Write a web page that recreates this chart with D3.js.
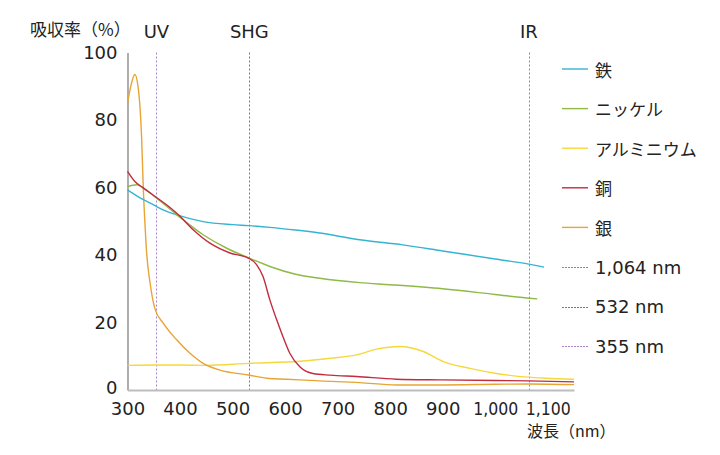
<!DOCTYPE html>
<html><head><meta charset="utf-8">
<script src="https://cdn.jsdelivr.net/npm/d3@7/dist/d3.min.js"></script>
<style>
html,body{margin:0;padding:0;background:#fff;}
svg{display:block;font-family:"DejaVu Sans","Noto Sans CJK JP",sans-serif;}
</style></head>
<body><svg id="c" width="720" height="455"></svg>
<script>
// ---- data ----
const seriesNames = ["鉄", "ニッケル", "アルミニウム", "銅", "銀"];
const seriesColors = ["#35b4d2", "#8fba46", "#f4d93c", "#c32b3f", "#e8a434"];

const ironX = [300, 320, 349, 370, 394, 444, 500, 530, 571, 620, 666, 742, 824, 900, 1000, 1064, 1093];
const ironY = [59.3, 57.3, 54.9, 53.2, 51.9, 49.9, 49.0, 48.7, 48.2, 47.4, 46.5, 44.5, 43.0, 41.2, 38.8, 37.3, 36.4];

const nickelX = [300, 318, 330, 355, 394, 444, 489, 530, 571, 620, 666, 742, 800, 900, 1000, 1064, 1080];
const nickelY = [60.3, 60.8, 59.8, 56.9, 51.9, 46.0, 42.0, 39.2, 36.6, 34.3, 33.1, 31.8, 31.2, 30.0, 28.3, 27.2, 27.0];

const aluminumX = [300, 355, 400, 450, 530, 628, 686, 736, 774, 818, 863, 901, 952, 1002, 1063, 1097, 1150];
const aluminumY = [7.3, 7.4, 7.4, 7.3, 7.9, 8.5, 9.4, 10.4, 12.1, 12.9, 11.4, 8.4, 6.4, 4.9, 3.8, 3.5, 3.2];

const copperX = [300, 314, 330, 352, 375, 397, 425, 457, 495, 530, 546, 558, 571, 584, 596, 609, 628, 653, 686, 736, 812, 900, 1000, 1063, 1150];
const copperY = [64.8, 61.8, 59.9, 57.4, 54.8, 51.9, 47.5, 43.5, 40.6, 39.1, 37.1, 33.6, 26.7, 20.8, 15.8, 10.9, 6.9, 4.9, 4.4, 4.0, 3.2, 3.0, 2.8, 2.7, 2.4];

const silverX = [300, 307, 314, 320, 327, 330, 333, 336.5, 343, 352, 368, 394, 419, 444, 476, 530, 565, 603, 666, 742, 812, 900, 1000, 1066, 1150];
const silverY = [85, 90.5, 93.5, 90, 74.2, 60, 50, 40.5, 31.7, 24.2, 19.8, 14.8, 10.9, 7.9, 5.9, 4.45, 3.5, 3.2, 2.7, 2.2, 1.5, 1.5, 1.7, 1.8, 1.6];

const laserWavelengths = [1064, 532, 355];
const laserTopLabels = ["IR", "SHG", "UV"];
const laserLegendLabels = ["1,064 nm", "532 nm", "355 nm"];
const laserColors = ["#8a8a8a", "#22a08a", "#a884c8"];

const xTicks = [300, 400, 500, 600, 700, 800, 900, 1000, 1100];
const yTicks = [0, 20, 40, 60, 80, 100];
const xDomain = [300, 1150];
const yDomain = [0, 100];

// ---- chart ----
const svg = d3.select("#c");
const x = d3.scaleLinear().domain(xDomain).range([127.5, 574]);
const y = d3.scaleLinear().domain(yDomain).range([390, 52.5]);
const snap = v => Math.round(v) + 0.5;
const fmt = d3.format(",");

// laser lines
laserWavelengths.forEach((w, i) => {
  svg.append("line")
    .attr("x1", snap(x(w))).attr("x2", snap(x(w)))
    .attr("y1", y(100)).attr("y2", y(0))
    .attr("stroke", laserColors[i]).attr("stroke-width", 1)
    .attr("stroke-dasharray", "2,2");
  svg.append("text")
    .attr("x", x(w)).attr("y", 31)
    .attr("text-anchor", "middle").attr("dominant-baseline", "central")
    .attr("font-size", 18).attr("fill", "#222")
    .text(laserTopLabels[i]);
});

// axes
const yAxis = svg.append("g").attr("transform", `translate(${x(300)},0)`)
  .call(d3.axisLeft(y).tickValues(yTicks).tickSize(0).tickPadding(10));
yAxis.select(".domain").attr("stroke", "#777").attr("stroke-width", 1.2);
yAxis.selectAll("text").attr("font-size", 18).attr("fill", "#222")
  .attr("font-family", "'DejaVu Sans', sans-serif")
  .attr("dy", d => d === 0 ? "0.2em" : "0.32em");

const xAxis = svg.append("g").attr("transform", `translate(0,${y(0)})`)
  .call(d3.axisBottom(x).tickValues(xTicks).tickSize(0).tickPadding(12).tickFormat(fmt));
xAxis.select(".domain").attr("stroke", "#bdbdbd").attr("stroke-width", 2.2);
xAxis.selectAll("text").attr("font-size", 18).attr("fill", "#222")
  .attr("font-family", "'DejaVu Sans', sans-serif")
  .each(function(d) {
    if (d >= 1000) d3.select(this).attr("textLength", 45).attr("lengthAdjust", "spacingAndGlyphs");
  });

// axis titles
svg.append("text").attr("x", 30).attr("y", 28).attr("dominant-baseline", "central")
  .attr("font-size", 17).attr("fill", "#222")
  .attr("font-family", "'Noto Sans CJK JP', sans-serif").text("吸収率（%）");
svg.append("text").attr("x", 527).attr("y", 430).attr("dominant-baseline", "central")
  .attr("font-size", 16).attr("fill", "#222")
  .attr("font-family", "'Noto Sans CJK JP', sans-serif").text("波長（nm）");

// series
const seriesX = [ironX, nickelX, aluminumX, copperX, silverX];
const seriesY = [ironY, nickelY, aluminumY, copperY, silverY];
const line = d3.line().x(d => x(d[0])).y(d => y(d[1])).curve(d3.curveMonotoneX);
const drawOrder = [2, 4, 0, 1, 3];
drawOrder.forEach(i => {
  const pts = seriesX[i].map((v, k) => [v, seriesY[i][k]]);
  svg.append("path").attr("d", line(pts)).attr("fill", "none")
    .attr("stroke", seriesColors[i]).attr("stroke-width", 1.4);
});

// legend
const legend = svg.append("g");
const legY0 = 69, legStep = 39.6;
seriesNames.forEach((n, i) => {
  const yy = legY0 + i * legStep;
  legend.append("line").attr("x1", 562).attr("x2", 588).attr("y1", yy).attr("y2", yy)
    .attr("stroke", seriesColors[i]).attr("stroke-width", 1.4);
  legend.append("text").attr("x", 595).attr("y", yy).attr("dominant-baseline", "central")
    .attr("font-size", 17).attr("fill", "#222")
    .attr("font-family", "'Noto Sans CJK JP', sans-serif").text(n);
});
laserLegendLabels.forEach((n, i) => {
  const yy = legY0 + (seriesNames.length + i) * legStep;
  legend.append("line").attr("x1", 562).attr("x2", 588).attr("y1", snap(yy)).attr("y2", snap(yy))
    .attr("stroke", laserColors[i]).attr("stroke-width", 1).attr("stroke-dasharray", "2,1");
  legend.append("text").attr("x", 595).attr("y", yy).attr("dominant-baseline", "central")
    .attr("font-size", 18).attr("fill", "#222").text(n);
});
</script></body></html>
